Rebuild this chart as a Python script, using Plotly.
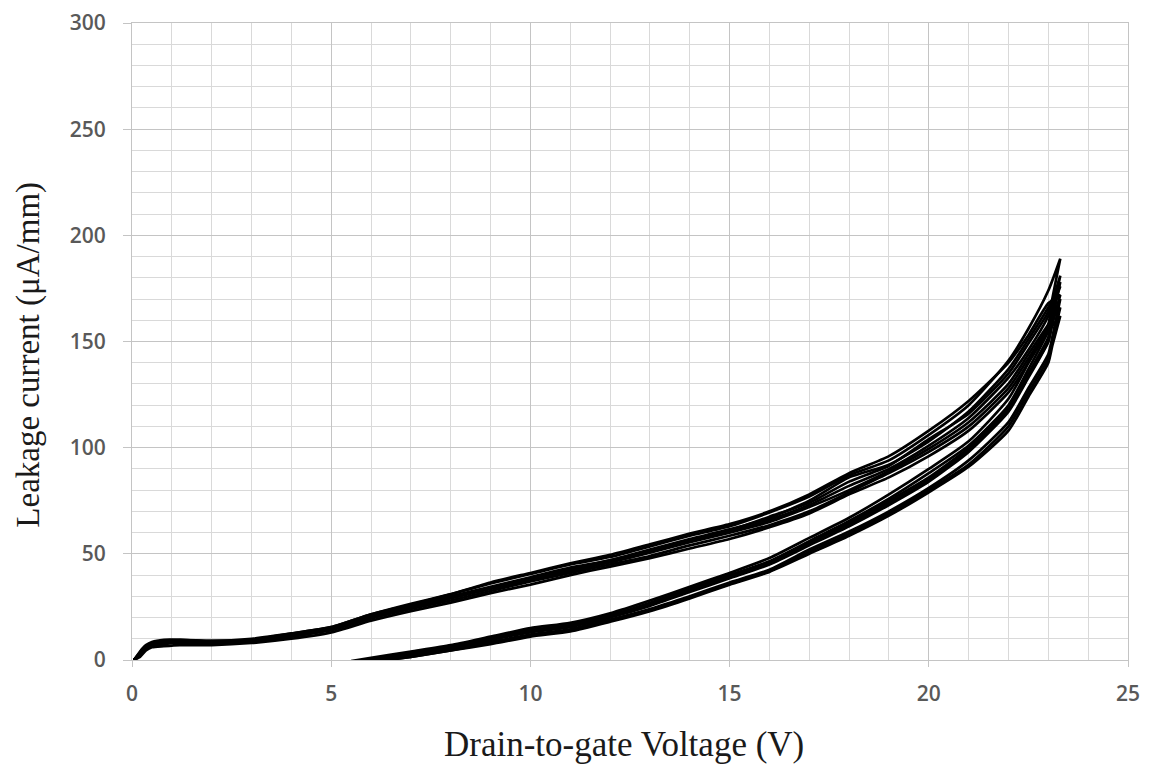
import plotly.graph_objects as go

# Sweep-up branch (higher current) voltage grid
up_x = [0.05, 0.2, 0.35, 0.5, 0.8, 1.2, 2, 3, 4, 5, 6, 7, 8, 9, 10, 11, 12, 13, 14,
        15, 16, 17, 18, 19, 20, 21, 22, 22.5, 23, 23.3]
# Sweep-down branch (lower current) voltage grid
down_x = [23.3, 23.1, 23, 22.5, 22, 21, 20, 19, 18, 17, 16, 15, 14, 13, 12, 11, 10,
          9, 8, 7, 6, 5.5]

up_y_1 = [0, 3, 6, 7, 8, 8.5, 8, 9, 11.5, 14.5, 20, 25, 29.5, 34, 38.5, 42.5, 46.5, 51,
          56, 60.5, 66, 73, 82, 90, 101, 114, 133, 146, 162, 178]
up_y_2 = [0, 4, 7, 8.5, 9.5, 9.5, 9, 10, 12.5, 15.5, 21.5, 26.5, 31, 36, 40.5, 45, 48.5,
          53.5, 58.5, 63, 69.5, 77, 87, 94, 106, 120, 141, 156, 174, 189]
up_y_3 = [0, 2, 5, 6.5, 7.5, 8, 7.5, 8.5, 11, 14, 19.5, 24, 28, 32.5, 37, 41, 45, 49, 54,
          58.5, 63.5, 70, 79, 88, 98, 110, 128, 142, 157, 170]
up_y_4 = [0, 3.5, 6.5, 7.5, 8.5, 9, 8.5, 9, 12, 15, 20.5, 25.5, 30, 34.5, 39, 43.5, 47,
          52, 57, 61.5, 67, 75, 86, 92, 103, 117, 137, 151, 166, 176]
up_y_5 = [0, 2.5, 5.5, 7, 8, 8.5, 8, 8.5, 11, 14.5, 20, 24.5, 29, 33.5, 37.5, 42, 46,
          50.5, 55.5, 60, 65, 72, 80, 89, 99.5, 112, 130, 144, 158, 166]
up_y_6 = [0, 3, 6.5, 8, 9, 9.5, 9, 9.5, 12.5, 15.5, 21.5, 26, 31, 36.5, 41, 45.5, 49.5,
          54.5, 59.5, 64, 70, 78, 88, 96, 108, 122, 140, 153, 168, 172]
up_y_7 = [0, 1.5, 4.5, 6, 6.5, 7, 7, 8, 10, 13, 18.5, 23, 27, 31.5, 35.5, 40, 44, 48,
          52.5, 57, 62.5, 69, 78, 86, 96, 108, 126, 140, 155, 162]
up_y_8 = [0, 3, 6, 7.5, 8.5, 9, 8.5, 9, 11.5, 14.5, 20.5, 25, 29.5, 34, 38.5, 43, 47,
          51.5, 56.5, 61, 67.5, 74, 84, 91.5, 104, 116, 135, 149, 164, 181]

down_y_1 = [178, 160, 150, 133, 117, 98, 84, 73, 63, 54, 45, 38.5, 32, 25.5, 20, 15.5,
            13, 9.5, 5.5, 2.5, 0.3, -1]
down_y_2 = [189, 170, 158, 140, 123, 103, 90, 78, 67, 57.5, 48, 41, 34.5, 28, 22, 17.5,
            15, 11, 7, 4, 1, -0.5]
down_y_3 = [170, 152, 144, 128, 112, 94, 81, 70, 60.5, 52, 42.5, 36.5, 30, 24, 19, 14.5,
            12, 8.5, 5, 2, -0.5, -2]
down_y_4 = [176, 165, 155, 137, 120, 101, 88, 76, 65.5, 56, 46.5, 40, 33.5, 27, 21, 16.5,
            14, 10.5, 6.5, 3.5, 0.5, -1]
down_y_5 = [166, 150, 142, 126, 110, 92, 80, 69, 59.5, 51, 42, 36, 29.5, 23.5, 18.5, 14,
            11.5, 8, 4.5, 1.5, -1, -2]
down_y_6 = [172, 158, 150, 134, 119, 100, 86, 75, 64.5, 55.5, 46, 39.5, 33, 26.5, 21,
            16.5, 14, 10, 6, 3, 0.5, -1]
down_y_7 = [162, 148, 140, 124, 108, 91, 79, 68, 58.5, 50, 41.5, 35.5, 29, 23, 18, 13.5,
            11, 7.5, 4.5, 1.5, -1, -2.5]
down_y_8 = [181, 163, 152, 135, 118, 99, 85, 74, 64, 55, 45.5, 39, 32.5, 26, 20.5, 16,
            13.5, 10, 6, 3, 0.5, -1]

x_ticks = [0, 5, 10, 15, 20, 25]
y_ticks = [0, 50, 100, 150, 200, 250, 300]

ups = [up_y_1, up_y_2, up_y_3, up_y_4, up_y_5, up_y_6, up_y_7, up_y_8]
downs = [down_y_1, down_y_2, down_y_3, down_y_4, down_y_5, down_y_6, down_y_7, down_y_8]

fig = go.Figure()
for uy, dy in zip(ups, downs):
    fig.add_trace(go.Scatter(
        x=up_x + down_x, y=uy + dy, mode="lines",
        line=dict(color="black", width=2.7, shape="spline", smoothing=0.6),
        showlegend=False, hoverinfo="skip"))

tick_font = dict(family="Open Sans", size=21, color="#595959", weight=600)
grid_major = "#c4c4c4"
grid_minor = "#d9d9d9"

fig.update_xaxes(
    range=[0, 25], tickvals=x_ticks, ticktext=[str(v) for v in x_ticks],
    showgrid=True, gridcolor=grid_major, gridwidth=1,
    minor=dict(dtick=1, showgrid=True, gridcolor=grid_minor, gridwidth=1),
    zeroline=False, showline=True, linecolor=grid_major, linewidth=1, mirror=True,
    ticks="outside", ticklen=6, tickcolor=grid_major, ticklabeloverflow="allow",
    ticklabelstandoff=9, tickfont=tick_font, fixedrange=True, automargin=False)
fig.update_yaxes(
    range=[0, 300], tickvals=y_ticks, ticktext=[str(v) for v in y_ticks],
    showgrid=True, gridcolor=grid_major, gridwidth=1,
    minor=dict(dtick=10, showgrid=True, gridcolor=grid_minor, gridwidth=1),
    zeroline=False, showline=True, linecolor=grid_major, linewidth=1, mirror=True,
    ticks="outside", ticklen=8, tickcolor=grid_major, ticklabeloverflow="allow",
    ticklabelstandoff=13, tickfont=tick_font, fixedrange=True, automargin=False)

fig.update_layout(
    width=1144, height=762,
    margin=dict(l=124, r=24, t=15, b=110, autoexpand=False),
    plot_bgcolor="white", paper_bgcolor="white",
    annotations=[
        dict(text="Drain-to-gate Voltage (V)", x=0.494, y=-0.133, xref="paper", yref="paper",
             showarrow=False, xanchor="center", yanchor="middle",
             font=dict(family="Liberation Serif", size=35, color="#1a1a1a")),
        dict(text="Leakage current (μA/mm)", x=-0.104, y=0.48, xref="paper", yref="paper",
             showarrow=False, xanchor="center", yanchor="middle", textangle=-90,
             font=dict(family="Liberation Serif", size=33, color="#1a1a1a")),
    ],
)

fig.write_html("out.html")
